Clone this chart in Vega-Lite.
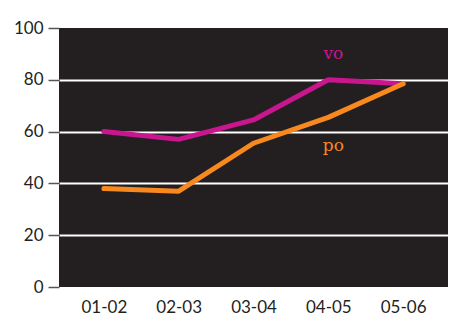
{
  "$schema": "https://vega.github.io/schema/vega-lite/v6.json",
  "width": 389,
  "height": 259,
  "autosize": {"type": "none"},
  "padding": {"left": 59, "top": 28, "right": 10, "bottom": 28},
  "background": "white",
  "config": {
    "view": {"fill": "#231f20", "stroke": null},
    "font": "Lato"
  },
  "datasets": {
    "lines": [
      {"period": "01-02", "series": "vo", "value": 60},
      {"period": "02-03", "series": "vo", "value": 57},
      {"period": "03-04", "series": "vo", "value": 64.5},
      {"period": "04-05", "series": "vo", "value": 80},
      {"period": "05-06", "series": "vo", "value": 78.5},
      {"period": "01-02", "series": "po", "value": 38},
      {"period": "02-03", "series": "po", "value": 37},
      {"period": "03-04", "series": "po", "value": 55.5},
      {"period": "04-05", "series": "po", "value": 65.5},
      {"period": "05-06", "series": "po", "value": 78.5}
    ],
    "labels": [
      {"period": "04-05", "series": "vo", "value": 90},
      {"period": "04-05", "series": "po", "value": 54.5}
    ]
  },
  "layer": [
    {
      "data": {"name": "lines"},
      "mark": {"type": "line", "strokeWidth": 5, "strokeCap": "round", "strokeJoin": "round"},
      "encoding": {
        "x": {
          "field": "period", "type": "ordinal",
          "scale": {"type": "point", "padding": 0.6},
          "axis": {"title": null, "labelAngle": 0, "ticks": false, "domain": false, "labelFontSize": 17, "labelColor": "#231f20", "labelPadding": 12, "labelFont": "Lato"}
        },
        "y": {
          "field": "value", "type": "quantitative",
          "scale": {"domain": [0, 100], "nice": false},
          "axis": {
            "title": null, "values": [0, 20, 40, 60, 80, 100], "domain": false,
            "tickSize": 11, "tickColor": "#555555", "tickWidth": 1.5,
            "labelFontSize": 17, "labelColor": "#231f20", "labelPadding": 5,
            "grid": true, "gridColor": "white", "gridWidth": 2,
            "gridOpacity": {"condition": {"test": "datum.value == 0 || datum.value == 100", "value": 0}, "value": 1}
          }
        },
        "color": {
          "field": "series", "type": "nominal",
          "scale": {"domain": ["vo", "po"], "range": ["#c9168f", "#f7891f"]},
          "legend": null
        }
      }
    },
    {
      "data": {"name": "labels"},
      "mark": {"type": "text", "font": "DejaVu Serif", "fontSize": 17, "dx": 5},
      "encoding": {
        "x": {"field": "period", "type": "ordinal"},
        "y": {"field": "value", "type": "quantitative"},
        "text": {"field": "series"},
        "color": {"field": "series", "type": "nominal", "legend": null}
      }
    }
  ]
}
